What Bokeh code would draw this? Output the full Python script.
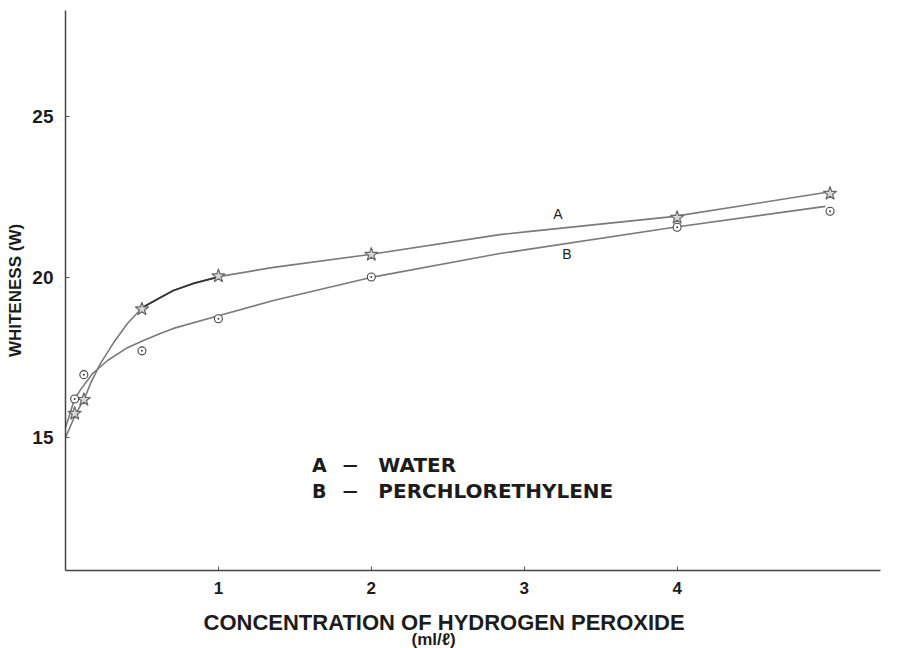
from bokeh.plotting import figure
from bokeh.models import Range1d, FixedTicker, Label, Title
from bokeh.embed import file_html
from bokeh.resources import INLINE

# ---- data ----
x_ticks = [1, 2, 3, 4]
y_ticks = [15, 20, 25]

# measured points
water_x = [0.06, 0.12, 0.5, 1, 2, 4, 5]
water_y = [15.75, 16.18, 19.0, 20.03, 20.7, 21.85, 22.6]
perc_x = [0.06, 0.12, 0.5, 1, 2, 4, 5]
perc_y = [16.2, 16.96, 17.7, 18.7, 20.0, 21.55, 22.05]

# hand-drawn fitted curves
curve_a_x = [0, 0.065, 0.124, 0.163, 0.229, 0.314, 0.405, 0.503, 0.621, 0.706, 0.837, 1.013,
             1.36, 1.99, 2.84, 3.04, 3.97, 4.97]
curve_a_y = [15.0, 15.72, 16.21, 16.68, 17.31, 17.95, 18.55, 19.05, 19.36, 19.58, 19.80, 20.02,
             20.30, 20.70, 21.32, 21.42, 21.88, 22.63]
curve_b_x = [0, 0.06, 0.10, 0.176, 0.275, 0.405, 0.51, 0.62, 0.706, 1.006,
             1.36, 1.99, 2.84, 3.97, 4.97]
curve_b_y = [15.31, 16.21, 16.50, 16.99, 17.40, 17.80, 18.02, 18.24, 18.40, 18.80,
             19.27, 19.98, 20.73, 21.54, 22.2]

TXT = "#1c1c1c"
LINE = "#7a7a7a"

p = figure(width=889, height=648, output_backend="svg", toolbar_location=None,
           x_range=Range1d(0, 5.33), y_range=Range1d(10.86, 28.3),
           min_border_left=65, min_border_right=9, min_border_top=10, min_border_bottom=78)
p.outline_line_color = None
p.grid.visible = False
p.background_fill_color = "white"
p.border_fill_color = "white"

for ax in (p.xaxis[0], p.yaxis[0]):
    ax.axis_line_color = "#444444"
    ax.axis_line_width = 1.5
    ax.major_tick_in = 4
    ax.major_tick_out = 0
    ax.minor_tick_line_color = None
    ax.major_tick_line_color = "#555555"
    ax.major_label_text_color = TXT
    ax.major_label_text_font = "Liberation Sans"
    ax.major_label_text_font_style = "bold"

p.xaxis.ticker = FixedTicker(ticks=x_ticks)
p.yaxis.ticker = FixedTicker(ticks=y_ticks)
p.xaxis.major_label_text_font_size = "17px"
p.yaxis.major_label_text_font_size = "19px"
p.xaxis.major_label_standoff = 11
p.yaxis.major_label_standoff = 12

p.yaxis.axis_label = "WHITENESS (W)"
p.yaxis.axis_label_text_font = "Liberation Sans"
p.yaxis.axis_label_text_font_size = "17px"
p.yaxis.axis_label_text_font_style = "bold"
p.yaxis.axis_label_text_color = TXT
p.yaxis.axis_label_standoff = 4

# x-axis title (two lines)
t1 = Title(text="CONCENTRATION OF HYDROGEN PEROXIDE", align="left", offset=138,
           text_font="Liberation Sans", text_font_size="22px", text_font_style="bold",
           text_color=TXT, standoff=23)
t2 = Title(text="(ml/ℓ)", align="left", offset=346, vertical_align="top",
           text_font="Liberation Sans", text_font_size="17px", text_font_style="bold",
           text_color=TXT, standoff=-34)
p.add_layout(t1, "below")
p.add_layout(t2, "below")

# curves
p.line(curve_a_x, curve_a_y, line_color=LINE, line_width=1.6)
p.line(curve_a_x[7:12], curve_a_y[7:12], line_color="#333333", line_width=1.8)
p.line(curve_b_x, curve_b_y, line_color=LINE, line_width=1.6)

# markers
p.scatter(water_x, water_y, marker="star", size=14, fill_color="#d8d8d8",
          line_color="#666666", line_width=1.2)
p.scatter(perc_x, perc_y, marker="circle_dot", size=8, fill_color="white",
          line_color="#444444", line_width=1.1)

# curve letters
p.add_layout(Label(x=3.22, y=21.95, text="A", text_font="Liberation Sans", text_font_size="14px",
                   text_color=TXT, text_align="center", text_baseline="middle"))
p.add_layout(Label(x=3.28, y=20.73, text="B", text_font="Liberation Sans", text_font_size="14px",
                   text_color=TXT, text_align="center", text_baseline="middle"))

# legend text
leg_font = "DejaVu Sans"
for yy, letter, name in [(14.16, "A", "WATER"), (13.35, "B", "PERCHLORETHYLENE")]:
    p.add_layout(Label(x=1.66, y=yy, text=letter, text_font=leg_font, text_font_size="19px",
                       text_font_style="bold", text_color=TXT, text_align="center", text_baseline="middle"))
    p.add_layout(Label(x=1.863, y=yy, text="—", text_font=leg_font, text_font_size="15px",
                       text_font_style="bold", text_color=TXT, text_align="center", text_baseline="middle"))
    p.add_layout(Label(x=2.046, y=yy, text=name, text_font=leg_font, text_font_size="20px",
                       text_font_style="bold", text_color=TXT, text_align="left", text_baseline="middle"))

open("out.html", "w").write(file_html(p, INLINE))
